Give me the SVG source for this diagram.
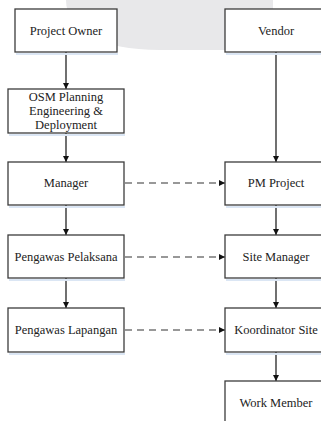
<svg xmlns="http://www.w3.org/2000/svg" width="321" height="421" viewBox="0 0 321 421">
<style>
.box{fill:#fff;stroke:#3c3c3c;stroke-width:1.3}
.sh{fill:none;stroke:#dbe6f4;stroke-width:2}
.t{font-family:"Liberation Serif","Times New Roman",serif;font-size:12.5px;fill:#222;text-anchor:middle}
.ln{stroke:#111;stroke-width:1.2;fill:none}
.ds{stroke:#333;stroke-width:1.2;fill:none;stroke-dasharray:7 5}
</style>
<defs>
<marker id="ah" viewBox="0 0 10 10" refX="10" refY="5" markerWidth="6" markerHeight="6" markerUnits="userSpaceOnUse" orient="auto">
<path d="M0,0 L10,5 L0,10 Z" fill="#111"/>
</marker>
</defs>
<rect width="321" height="421" fill="#fff"/>
<path d="M66,0 C66,30 100,50 160,50 L268,50 Q273,50 273,45 L273,0 Z" fill="#e8e8ea"/>
<g id="connectors">
<line class="ln" x1="66" y1="52" x2="66" y2="89" marker-end="url(#ah)"/>
<line class="ln" x1="66" y1="133" x2="66" y2="162" marker-end="url(#ah)"/>
<line class="ln" x1="66" y1="205" x2="66" y2="235" marker-end="url(#ah)"/>
<line class="ln" x1="66" y1="278" x2="66" y2="308" marker-end="url(#ah)"/>
<line class="ln" x1="276" y1="52" x2="276" y2="162" marker-end="url(#ah)"/>
<line class="ln" x1="276" y1="205" x2="276" y2="235" marker-end="url(#ah)"/>
<line class="ln" x1="276" y1="278" x2="276" y2="308" marker-end="url(#ah)"/>
<line class="ln" x1="276" y1="352" x2="276" y2="381" marker-end="url(#ah)"/>
<line class="ds" x1="125" y1="183" x2="225" y2="183" marker-end="url(#ah)"/>
<line class="ds" x1="125" y1="257" x2="225" y2="257" marker-end="url(#ah)"/>
<line class="ds" x1="125" y1="330" x2="225" y2="330" marker-end="url(#ah)"/>
</g>
<g id="project-owner">
<line class="sh" x1="16" y1="54" x2="118" y2="54"/>
<rect class="box" x="15" y="9" width="102" height="43"/>
<text class="t" x="66" y="35">Project Owner</text>
</g>
<g id="vendor">
<line class="sh" x1="226" y1="54" x2="328" y2="54"/>
<rect class="box" x="225" y="9" width="102" height="43"/>
<text class="t" x="276" y="35">Vendor</text>
</g>
<g id="osm">
<line class="sh" x1="9" y1="135" x2="125" y2="135"/>
<rect class="box" x="8" y="89" width="116" height="44"/>
<text class="t" x="66" y="101">OSM Planning</text>
<text class="t" x="66" y="115">Engineering &amp;</text>
<text class="t" x="66" y="129">Deployment</text>
</g>
<g id="manager">
<line class="sh" x1="9" y1="207" x2="125" y2="207"/>
<rect class="box" x="8" y="162" width="116" height="43"/>
<text class="t" x="66" y="187">Manager</text>
</g>
<g id="pm-project">
<line class="sh" x1="226" y1="207" x2="328" y2="207"/>
<rect class="box" x="225" y="162" width="102" height="43"/>
<text class="t" x="276" y="187">PM Project</text>
</g>
<g id="pengawas-pelaksana">
<line class="sh" x1="9" y1="280" x2="125" y2="280"/>
<rect class="box" x="8" y="235" width="116" height="43"/>
<text class="t" x="66" y="261">Pengawas Pelaksana</text>
</g>
<g id="site-manager">
<line class="sh" x1="226" y1="280" x2="328" y2="280"/>
<rect class="box" x="225" y="235" width="102" height="43"/>
<text class="t" x="276" y="261">Site Manager</text>
</g>
<g id="pengawas-lapangan">
<line class="sh" x1="9" y1="354" x2="125" y2="354"/>
<rect class="box" x="8" y="308" width="116" height="44"/>
<text class="t" x="66" y="334">Pengawas Lapangan</text>
</g>
<g id="koordinator-site">
<line class="sh" x1="226" y1="354" x2="328" y2="354"/>
<rect class="box" x="225" y="308" width="102" height="44"/>
<text class="t" x="276" y="334">Koordinator Site</text>
</g>
<g id="work-member">
<rect class="box" x="225" y="381" width="102" height="50"/>
<text class="t" x="276" y="407">Work Member</text>
</g>
</svg>
